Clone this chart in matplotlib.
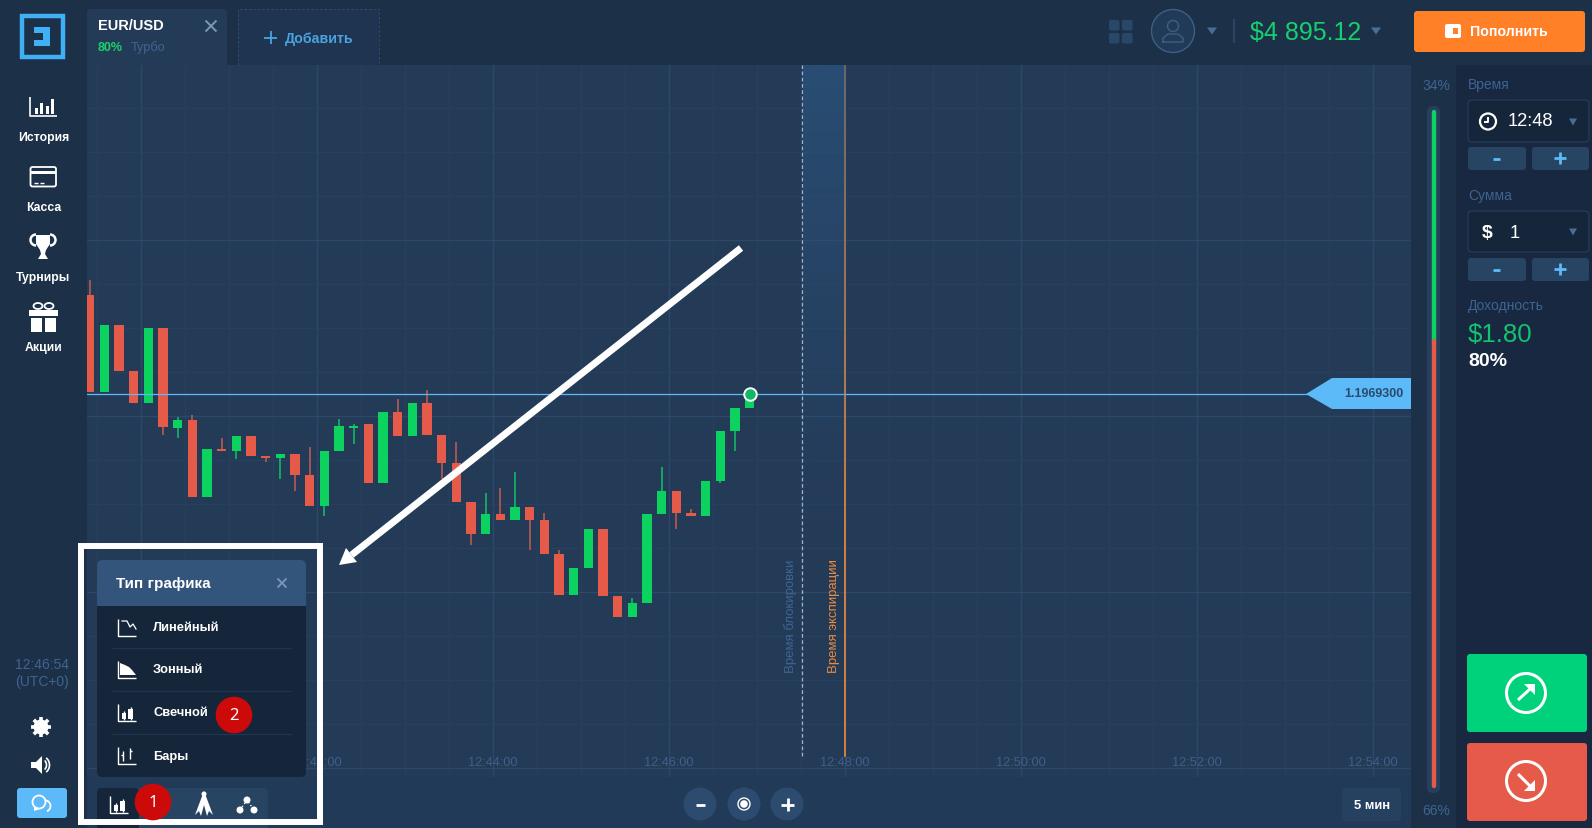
import numpy as np
import matplotlib
matplotlib.use('Agg')
from matplotlib import pyplot as plt
from matplotlib.patches import Circle, FancyBboxPatch, Polygon, Rectangle, Arc

plt.rcParams['font.family'] = ['Liberation Sans', 'DejaVu Sans']

# candles, seconds after 12:00
times = [2365, 2375, 2385, 2395, 2405, 2415, 2425, 2435, 2445, 2455, 2465, 2475,
         2485, 2495, 2505, 2515, 2525, 2535, 2545, 2555, 2565, 2575, 2585, 2595,
         2605, 2615, 2625, 2635, 2645, 2655, 2665, 2675, 2685, 2695, 2705, 2715,
         2725, 2735, 2745, 2755, 2765, 2775, 2785, 2795, 2805, 2815]
opens = [1.197229, 1.196937, 1.197139, 1.197001, 1.196905, 1.197129, 1.196830, 1.196852,
         1.196623, 1.196766, 1.196761, 1.196804, 1.196745, 1.196739, 1.196750, 1.196687,
         1.196596, 1.196761, 1.196830, 1.196841, 1.196665, 1.196878, 1.196804, 1.196905,
         1.196809, 1.196724, 1.196607, 1.196511, 1.196570, 1.196553, 1.196591, 1.196553,
         1.196452, 1.196329, 1.196410, 1.196527, 1.196325, 1.196261, 1.196304, 1.196570,
         1.196639, 1.196575, 1.196564, 1.196671, 1.196820, 1.196889]
closes = [1.196937, 1.197139, 1.197001, 1.196905, 1.197129, 1.196831, 1.196852, 1.196623,
          1.196766, 1.196761, 1.196804, 1.196745, 1.196739, 1.196750, 1.196687, 1.196596,
          1.196761, 1.196836, 1.196836, 1.196665, 1.196878, 1.196804, 1.196905, 1.196809,
          1.196724, 1.196607, 1.196511, 1.196570, 1.196553, 1.196591, 1.196553, 1.196452,
          1.196329, 1.196410, 1.196527, 1.196325, 1.196261, 1.196304, 1.196570, 1.196639,
          1.196575, 1.196564, 1.196671, 1.196820, 1.196889, 1.196930]
highs = [1.197273, 1.197139, 1.197139, 1.197001, 1.197129, 1.197129, 1.196863, 1.196868,
         1.196766, 1.196799, 1.196804, 1.196804, 1.196745, 1.196750, 1.196750, 1.196772,
         1.196761, 1.196857, 1.196841, 1.196841, 1.196878, 1.196916, 1.196905, 1.196943,
         1.196809, 1.196788, 1.196607, 1.196634, 1.196649, 1.196697, 1.196591, 1.196575,
         1.196463, 1.196410, 1.196527, 1.196527, 1.196325, 1.196320, 1.196570, 1.196713,
         1.196639, 1.196586, 1.196671, 1.196820, 1.196889, 1.196930]
lows = [1.196937, 1.196937, 1.197001, 1.196905, 1.196905, 1.196809, 1.196798, 1.196623,
        1.196623, 1.196761, 1.196735, 1.196745, 1.196728, 1.196677, 1.196639, 1.196596,
        1.196564, 1.196761, 1.196782, 1.196665, 1.196665, 1.196804, 1.196804, 1.196809,
        1.196676, 1.196607, 1.196479, 1.196511, 1.196553, 1.196553, 1.196463, 1.196452,
        1.196329, 1.196329, 1.196410, 1.196325, 1.196261, 1.196261, 1.196304, 1.196570,
        1.196526, 1.196564, 1.196564, 1.196665, 1.196761, 1.196889]
current_price = 1.196930
lock_time = 2851
expiry_time = 2880

tick_times = [2400, 2520, 2640, 2760, 2880, 3000, 3120, 3240]
tick_labels = ['', '12:42:00', '12:44:00', '12:46:00', '12:48:00', '12:50:00', '12:52:00', '12:54:00']
major_prices = [1.197393, 1.196865, 1.196337, 1.195809]

menu_items = ['Линейный', 'Зонный', 'Свечной', 'Бары']
side_items = ['История', 'Касса', 'Турниры', 'Акции']

SIDE = '#1c3048'
PANEL = '#182840'
CHART = '#243b58'
GREEN = '#0cd25f'
RED = '#e55a49'
MUTED = '#3f6492'
BUTTON = '#274463'
DARK = '#16263a'
LIGHT = '#5cbaf9'

fig = plt.figure(figsize=(15.92, 8.29), dpi=100, facecolor=SIDE)


def full_axes(z):
    a = fig.add_axes([0, 0, 1, 1], zorder=z)
    a.set_xlim(0, 1592)
    a.set_ylim(829, 0)
    a.axis('off')
    a.autoscale(False)
    return a


bg = full_axes(0)
ui = full_axes(2)


def box(x0, y0, x1, y1, color, r=3, a=None, **kw):
    a = a or ui
    a.add_patch(FancyBboxPatch((x0 + r, y0 + r), x1 - x0 - 2 * r, y1 - y0 - 2 * r,
                               boxstyle=f'round,pad={r},rounding_size={r}',
                               fc=color, ec=kw.pop('ec', 'none'), **kw))


def line(xs, ys, color='white', lw=1.2, **kw):
    ui.plot(xs, ys, color=color, lw=lw, solid_capstyle=kw.pop('cap', 'butt'), **kw)


def poly(pts, color='white', **kw):
    ui.add_patch(Polygon(pts, closed=True, fc=color, ec='none', **kw))


def text(x, y, s, size=10, color='white', bold=False, ha='left', **kw):
    ui.text(x, y, s, fontsize=size, color=color, fontweight='bold' if bold else 'normal',
            ha=ha, va='center', **kw)


def tri_down(x, y, w=5, h=7, color='#4a6d96'):
    poly([(x - w, y - h / 2), (x + w, y - h / 2), (x, y + h / 2)], color)


def cross(x, y, r, color, lw=1.5):
    line([x - r, x + r], [y - r, y + r], color, lw)
    line([x - r, x + r], [y + r, y - r], color, lw)


def axis_l(x, y, w=18, h=17, lw=1.0):
    line([x, x, x + w], [y - h, y, y], 'white', lw)


def candle_icon(x, y):
    axis_l(x, y)
    ui.add_patch(Rectangle((x + 4, y - 8), 4, 6, fc='white'))
    ui.add_patch(Rectangle((x + 10, y - 12), 5, 10, fc='white'))
    line([x + 6, x + 6], [y - 10, y - 1], 'white', 1)
    line([x + 12.5, x + 12.5], [y - 14, y - 1], 'white', 1)


# panels behind the chart
bg.add_patch(Rectangle((0, 0), 1592, 829, fc=SIDE))
bg.add_patch(Rectangle((87, 778), 1324, 51, fc='#203a58'))
bg.add_patch(Rectangle((1456, 66), 136, 763, fc=PANEL))
box(87, 10, 227, 90, CHART, 4, bg)
box(238, 10, 379, 90, '#1e3450', 3, bg)

# candle chart
ax = fig.add_axes([87 / 1592, 51 / 829, 1324 / 1592, 712 / 829], zorder=1, facecolor=CHART)
for s in ax.spines.values():
    s.set_visible(False)

ax.set_xticks(tick_times, tick_labels)
ax.set_xticks(np.arange(2370, 3270, 30), minor=True)
ax.set_yticks(major_prices, [''] * len(major_prices))
ax.set_yticks(np.arange(1.195809, 1.19795, 0.000132), minor=True)
ax.set_xlim(2363.2, 3265.9)
ax.set_ylim(1.195782, 1.197918)
ax.tick_params(which='both', length=0)
ax.tick_params(axis='x', pad=-15, labelsize=9.2, labelcolor='#3f6088')
ax.grid(which='major', color='#2d4969', lw=0.9)
ax.grid(which='minor', color='#28405e', lw=0.8)
ax.set_axisbelow(True)

times_a = np.array(times)
opens_a, closes_a = np.array(opens), np.array(closes)
colors = [GREEN if c > o else RED for o, c in zip(opens_a, closes_a)]
wick_colors = ['#13b866' if c > o else '#b85a50' for o, c in zip(opens_a, closes_a)]
ax.vlines(times_a, lows, highs, colors=wick_colors, lw=1.2, zorder=3)
ax.bar(times_a, np.abs(closes_a - opens_a), bottom=np.minimum(opens_a, closes_a), width=6.2,
       color=colors, zorder=3)
ax.axhline(current_price, color=LIGHT, lw=0.9, zorder=4)
ax.plot(times[-1], current_price, 'o', mfc='#12b866', mec='white', ms=9, mew=1.4, zorder=5)

ax.plot([lock_time, lock_time], [1.195845, 1.197918], color='#9db7d2', lw=0.9, ls=(0, (3, 2)), zorder=2)
ax.plot([expiry_time, expiry_time], [1.195845, 1.197918], color='#f08a3c', lw=1.2, zorder=2)

# lock band fading downward
grad = np.zeros((256, 1, 4))
grad[..., 0], grad[..., 1], grad[..., 2] = 0x2c / 255, 0x58 / 255, 0x84 / 255
grad[:, 0, 3] = np.linspace(0.7, 0, 256) ** 1.3
ui.imshow(grad, extent=[802.5, 845, 560, 66], aspect='auto', zorder=0.5)

ui.text(791, 673, 'Время блокировки', rotation=90, fontsize=9.5, color='#3f6492', ha='center', va='bottom')
ui.text(834, 673, 'Время экспирации', rotation=90, fontsize=9.5, color='#f08a3c', ha='center', va='bottom')

# price tag
poly([(1306, 395), (1332, 379), (1411, 379), (1411, 410), (1332, 410)], LIGHT)
text(1374, 394, '1.1969300', 9, '#2b4a6c', True, ha='center')

# big arrow
line([741, 351.5], [249, 556], 'white', 5)
poly([(339, 566), (346, 549), (357, 563)])

# top bar
text(98, 26, 'EUR/USD', 10.5, 'white', True)
cross(211, 27, 5.5, '#7d98b6', 1.4)
text(98, 48, '80%', 9, '#1ccf6c', True)
text(131, 48, 'Турбо', 9.2, MUTED)
ui.plot([238, 238, 379, 379], [66, 10, 10, 66], color='#2f4c70', lw=0.8, ls=(0, (2, 2)))
line([264, 277], [38.5, 38.5], '#4aa3df', 1.3)
line([270.5, 270.5], [32, 45], '#4aa3df', 1.3)
text(285, 38.5, 'Добавить', 10.2, '#4aa3df', True)

for gx in (1109, 1122):
    for gy in (21, 34):
        box(gx, gy, gx + 10.5, gy + 10.5, '#2a4768', 2)
ui.add_patch(Circle((1173, 32), 21.5, fc='#203a58', ec='#3e5f85', lw=1))
ui.add_patch(Circle((1173, 27), 5.5, fc='none', ec='#3e5f85', lw=1))
ui.plot([1163, 1163, 1168, 1178, 1183, 1183, 1163], [43, 39, 35, 35, 39, 43, 43], color='#3e5f85', lw=1)
tri_down(1212, 32)
line([1234, 1234], [20, 44], '#2f4a6a', 1.2)
text(1250, 33, '$4 895.12', 18, '#17cf6e')
tri_down(1376, 32)

box(1414, 12, 1585, 53, '#ff8027', 3)
box(1445, 25, 1461, 39, 'white', 2)
ui.add_patch(Rectangle((1453, 29), 5, 6, fc='#ff8027'))
text(1470, 32, 'Пополнить', 10.2, 'white', True)

# left menu
ui.add_patch(Rectangle((21.5, 17), 41, 41, fc='none', ec='#3fb0f5', lw=3.2))
poly([(34, 28), (50, 28), (50, 47), (34, 47), (34, 41), (43, 41), (43, 34), (34, 34)], '#3fb0f5')
for s, ty in zip(side_items, [138, 208, 278, 348]):
    text(43.5, ty, s, 8.8, 'white', True, ha='center')

line([30, 30, 57], [98, 117, 117], 'white', 1.2)
for bx, top in zip([36, 41.5, 47, 52], [109, 104, 107, 100]):
    ui.add_patch(Rectangle((bx - 1.5, top), 3, 115 - top, fc='white'))
box(30.5, 168, 56, 187.5, 'none', 2, ec='white', lw=1.3)
ui.add_patch(Rectangle((31, 172), 25, 3, fc='white'))
line([34, 38], [184, 184], 'white', 1)
line([40, 44], [184, 184], 'white', 1)
poly([(36, 236), (50, 236), (50, 245), (46, 251), (45, 255), (48, 260), (38, 260), (41, 255), (40, 251), (36, 245)])
ui.add_patch(Arc((36, 241), 11, 11, theta1=90, theta2=270, ec='white', lw=1.8))
ui.add_patch(Arc((50, 241), 11, 11, theta1=-90, theta2=90, ec='white', lw=1.8))
ui.add_patch(Rectangle((29, 311), 29, 6, fc='white'))
ui.add_patch(Rectangle((31, 318.5), 11, 14, fc='white'))
ui.add_patch(Rectangle((45, 318.5), 11, 14, fc='white'))
ui.add_patch(Arc((38, 307), 9, 6, ec='white', lw=1.3))
ui.add_patch(Arc((49, 307), 9, 6, ec='white', lw=1.3))

text(42, 665, '12:46:54', 10, MUTED, ha='center')
text(42, 682, '(UTC+0)', 10, MUTED, ha='center')
for dx, dy in [(10, 0), (0, 10), (7.2, 7.2), (7.2, -7.2)]:
    line([41 - dx, 41 + dx], [728 - dy, 728 + dy], 'white', 2.6)
ui.add_patch(Circle((41, 728), 7.5, fc='white'))
ui.add_patch(Circle((41, 728), 3, fc=SIDE))
poly([(31, 763), (36, 763), (42, 757), (42, 775), (36, 769), (31, 769)])
ui.add_patch(Arc((42, 766), 9, 11, theta1=-60, theta2=60, ec='white', lw=1.2))
ui.add_patch(Arc((42, 766), 15, 17, theta1=-60, theta2=60, ec='white', lw=1.2))
box(17, 789, 67, 819, LIGHT, 3)
ui.add_patch(Circle((39, 803), 6.5, fc=LIGHT, ec='white', lw=1.3))
ui.add_patch(Arc((44, 807), 13, 12, theta1=-80, theta2=60, ec='white', lw=1.3))
poly([(34, 807), (40, 810), (34, 812)])

# chart type popup
box(97, 561, 306, 778, DARK, 5)
box(97, 561, 306, 612, '#33557c', 5)
ui.add_patch(Rectangle((97, 607), 209, 10, fc=DARK))
text(116, 584, 'Тип графика', 11, 'white', True)
cross(282, 584, 4.5, '#7d98b6', 1.3)
for sy in (649, 692, 735):
    line([112, 291], [sy, sy], '#1f344e', 1)
for s, ty in zip(menu_items, [628, 670, 713, 757]):
    text(153, ty, s, 9.3, 'white', True)

axis_l(118, 637)
ui.plot([122, 127, 130, 133, 136], [622, 622, 628, 625, 630], color='white', lw=0.9)
axis_l(118, 679)
poly([(120, 664), (125, 666), (129, 668), (132, 671), (136, 676), (120, 676)])
candle_icon(118, 722)
axis_l(118, 765)
line([123, 123], [752, 762], 'white', 1)
line([121, 123], [756, 756], 'white', 1)
line([130, 130], [749, 760], 'white', 1)
line([130, 132], [752, 752], 'white', 1)

# bottom toolbar
box(97, 789, 268, 832, BUTTON, 4)
box(97, 789, 139, 832, DARK, 4)
candle_icon(110, 814)
poly([(204, 792), (207, 800), (213, 816), (209, 812), (207, 817), (204, 806), (201, 817), (199, 812), (195, 816), (201, 800)])
ui.add_patch(Circle((204, 795), 2.5, fc='white'))
line([240, 247, 254], [811, 801, 811], 'white', 1, ls=':')
for nx, ny in [(240, 811), (247, 801), (254, 811)]:
    ui.add_patch(Circle((nx, ny), 3.5, fc='white'))

# white frame round the popup
ui.add_patch(Rectangle((81, 547), 239, 276, fc='none', ec='white', lw=4.3, zorder=4))
for nx, ny, s in [(153, 803, '1'), (234, 716, '2')]:
    ui.add_patch(Circle((nx, ny), 18.3, fc='#cc0a0a', zorder=5))
    ui.text(nx, ny, s, fontsize=12, family='Noto Sans', color='white', ha='center', va='center', zorder=6)

# zoom controls
for cx in (700, 744, 787):
    ui.add_patch(Circle((cx, 805), 16.5, fc='#2c4b6e'))
line([696, 705], [805.5, 805.5], 'white', 2)
ui.add_patch(Circle((744, 805), 6, fc='none', ec='white', lw=1))
ui.add_patch(Circle((744, 805), 3.8, fc='white'))
line([781, 794], [805.5, 805.5], 'white', 2)
line([787.5, 787.5], [799, 812], 'white', 2)
box(1342, 789, 1401, 822, '#26415f', 4)
text(1372, 806, '5 мин', 9.4, 'white', True, ha='center')

# sentiment scale
box(1427, 107, 1440, 794, '#263f5c', 6)
text(1436, 86, '34%', 10, MUTED, ha='center')
text(1436, 811, '66%', 10, MUTED, ha='center')
ax_x = 1434
ui.plot([ax_x, ax_x], [113, 342], color=GREEN, lw=3.2, solid_capstyle='round')
ui.plot([ax_x, ax_x], [342, 787], color=RED, lw=3.2, solid_capstyle='round')

# right panel
text(1468, 85, 'Время', 10, MUTED)
box(1468, 101, 1589, 143, DARK, 4, ec='#2a4260', lw=0.7)
ui.add_patch(Circle((1488, 122.5), 8, fc='none', ec='white', lw=1.6))
line([1488, 1488, 1484], [117.5, 123, 123], 'white', 1.4)
text(1508, 121.5, '12:48', 13.2, 'white')
tri_down(1573, 123, 4, 7)
text(1468, 196, 'Сумма', 10, MUTED)
box(1468, 212, 1589, 253, DARK, 4, ec='#2a4260', lw=0.7)
text(1482, 233, '$', 14, 'white', True)
text(1510, 233, '1', 13.2, 'white')
tri_down(1573, 233, 4, 7)
for by in (148, 259):
    box(1468, by, 1526, by + 23, BUTTON, 3)
    box(1532, by, 1589, by + 23, BUTTON, 3)
    line([1493, 1500], [by + 12, by + 12], LIGHT, 2)
    line([1554, 1566], [by + 11, by + 11], LIGHT, 2)
    line([1560, 1560], [by + 5, by + 17], LIGHT, 2)
text(1468, 306, 'Доходность', 10, MUTED)
text(1468, 335, '$1.80', 18.6, '#12c46f')
text(1468, 361, '80%', 14, 'white', True)

box(1467, 655, 1587, 733, '#00d27c', 3)
box(1467, 744, 1587, 822, RED, 3)
ui.add_patch(Circle((1526, 694), 19.5, fc='none', ec='white', lw=2.2))
ui.add_patch(Circle((1526, 782), 19.5, fc='none', ec='white', lw=2.2))
line([1518, 1530], [701, 690], 'white', 2.2)
poly([(1535, 685), (1535, 696), (1524, 685)])
line([1518, 1530], [775, 787], 'white', 2.2)
poly([(1535, 792), (1535, 781), (1524, 792)])

fig.savefig('out.png', dpi=100, facecolor=fig.get_facecolor())
